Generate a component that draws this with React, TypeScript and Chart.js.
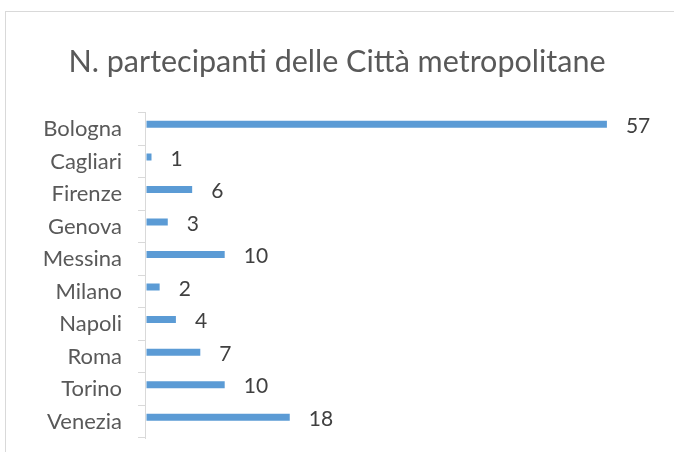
import { useEffect, useRef } from "react";
import { Chart, registerables } from "chart.js";

Chart.register(...registerables);

const categories = ["Bologna", "Cagliari", "Firenze", "Genova", "Messina", "Milano", "Napoli", "Roma", "Torino", "Venezia"];
const values = [57, 1, 6, 3, 10, 2, 4, 7, 10, 18];
const titleText = "N. partecipanti delle Città metropolitane";
const xMin = 0.2;
const xMax = 65.25;

const FONT = "Lato, 'Open Sans', sans-serif";

const valueLabels = {
  id: "valueLabels",
  afterDatasetsDraw(chart: any) {
    const ctx = chart.ctx;
    const meta = chart.getDatasetMeta(0);
    ctx.save();
    ctx.font = `21px ${FONT}`;
    ctx.fillStyle = "#404040";
    ctx.textBaseline = "middle";
    ctx.textAlign = "left";
    meta.data.forEach((bar: any, i: number) => {
      const p = bar.getProps(["x", "y"], true);
      ctx.fillText(String(values[i]), p.x + 19, p.y + 2);
    });
    ctx.restore();
  },
};

export default function App() {
  const ref = useRef<HTMLCanvasElement | null>(null);
  useEffect(() => {
    document.body.style.margin = "0";
    const chart = new Chart(ref.current as HTMLCanvasElement, {
      type: "bar",
      data: {
        labels: categories,
        datasets: [
          {
            label: "Partecipanti",
            data: values,
            backgroundColor: "#5B9BD5",
            categoryPercentage: 0.554,
            barPercentage: 0.8,
            maxBarThickness: 7,
            clip: { left: -1.5, top: 0, right: 0, bottom: 0 },
          },
          {
            label: "",
            data: [],
            backgroundColor: "#ED7D31",
            categoryPercentage: 0.554,
            barPercentage: 0.8,
            maxBarThickness: 7,
          },
        ],
      },
      options: {
        indexAxis: "y",
        responsive: false,
        animation: false,
        layout: { padding: { left: 0, right: 0, top: 0, bottom: 14 } },
        plugins: {
          legend: { display: false },
          tooltip: { enabled: false },
          title: {
            display: true,
            text: titleText,
            color: "#595959",
            font: { family: FONT, size: 30.5, weight: "normal" },
            padding: { top: 44, bottom: 32 },
          },
        },
        scales: {
          x: { display: false, min: xMin, max: xMax },
          y: {
            offset: true,
            grid: {
              display: true,
              offset: true,
              drawOnChartArea: false,
              drawTicks: true,
              tickLength: 7,
              color: "#D9D9D9",
              lineWidth: 1,
            },
            border: { display: true, color: "#D9D9D9", width: 1 },
            ticks: {
              color: "#595959",
              font: { family: FONT, size: 22 },
              padding: 16,
            },
            afterFit: (s: any) => {
              s.width = 145;
              s.paddingTop = 0;
              s.paddingBottom = 0;
            },
          },
        },
      },
      plugins: [valueLabels],
    });
    return () => chart.destroy();
  }, []);
  return (
    <div style={{ position: "relative", width: 674, height: 452, overflow: "hidden", background: "#fff" }}>
      <div
        style={{
          position: "absolute",
          left: 5,
          top: 11,
          width: 700,
          height: 500,
          border: "1px solid #D9D9D9",
          boxSizing: "border-box",
        }}
      />
      <canvas ref={ref} width={674} height={452} style={{ position: "absolute", left: 0, top: 0 }} />
    </div>
  );
}
